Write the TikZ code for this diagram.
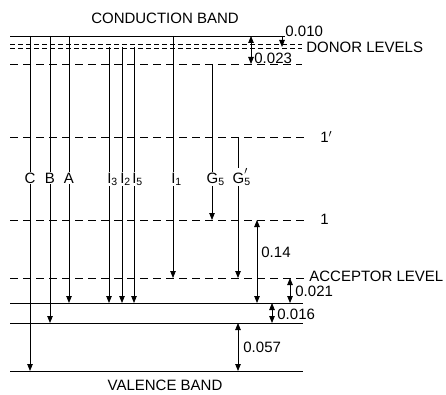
\documentclass[tikz,border=0pt]{standalone}
\usepackage{fontspec}
\setmainfont{Liberation Sans}
\usetikzlibrary{arrows.meta}

\begin{document}
\begin{tikzpicture}[x=1pt, y=-1pt, line width=0.8pt,
  >={Stealth[length=7pt, width=5.5pt, inset=0pt]},
  level/.style={dash pattern=on 8pt off 5pt},
  donor/.style={dash pattern=on 5pt off 3pt, line width=0.7pt},
  tag/.style={fill=white, inner sep=1pt, font=\fontsize{15}{17}\selectfont},
  txt/.style={inner sep=0pt, anchor=west, font=\fontsize{15}{17}\selectfont}]
  \useasboundingbox (0,0) rectangle (446,395);

  % Bands and levels
  \draw (10,36) -- (285,36);
  \draw[donor] (10,44.5) -- (302,44.5);
  \draw[donor] (10,48.5) -- (302,48.5);
  \draw[level] (10,64) -- (302,64);
  \draw[level] (10,137) -- (306,137);
  \draw[level] (10,220) -- (306,220);
  \draw[level] (10,278) -- (306,278);
  \draw (10,303) -- (303,303);
  \draw (10,323) -- (303,323);
  \draw (10,371) -- (303,371);

  % Transitions
  \draw[->] (30,36) -- (30,371);
  \draw[->] (50,36) -- (50,323);
  \draw[->] (69,36) -- (69,303);
  \draw[->] (109,47) -- (109,303);
  \draw[->] (122,47) -- (122,303);
  \draw[->] (134,47) -- (134,303);
  \draw[->] (173,36) -- (173,278);
  \draw[->] (212,64) -- (212,220);
  \draw[->] (238,137) -- (238,278);

  % Energy gaps
  \draw[<->] (251,36) -- (251,64);
  \draw[->] (282,36) -- (282,47);
  \draw[<->] (257,220) -- (257,303);
  \draw[<->] (290,278) -- (290,303);
  \draw[<->] (272,303) -- (272,323);
  \draw[<->] (238,323) -- (238,371);

  % Line labels
  \node[tag, anchor=base] (lC) at (30,183) {C};
  \node[tag, anchor=base] (lB) at (50,183) {B};
  \node[tag, anchor=base] (lA) at (69,183) {A};
  \node[tag, anchor=base west] (lI3) at (105.9,183) {I\textsubscript{3}};
  \node[tag, anchor=base west] (lI2) at (118.9,183) {I\textsubscript{2}};
  \node[tag, anchor=base west] (lI5) at (130.9,183) {I\textsubscript{5}};
  \node[tag, anchor=base west] (lI1) at (169.9,183) {I\textsubscript{1}};
  \node[tag, anchor=base west] (lG5) at (205.2,183) {G\textsubscript{5}};
  \node[tag, anchor=base west] (lG5p) at (231.2,183) {G\rlap{\raisebox{0.4ex}{$'$}}\textsubscript{5}};

  % Texts
  \node[txt, anchor=center] (cb) at (165,18) {CONDUCTION BAND};
  \node[txt, anchor=center] (vb) at (165,385) {VALENCE BAND};
  \node[txt] (e010) at (285,31) {0.010};
  \node[txt] (donors) at (306,47) {DONOR LEVELS};
  \node[txt] (e023) at (254,58) {0.023};
  \node[txt] (l1p) at (320,137) {1$'$};
  \node[txt] (l1) at (320,219) {1};
  \node[txt] (e14) at (261,252) {0.14};
  \node[txt] (acc) at (309,276) {ACCEPTOR LEVEL};
  \node[txt] (e021) at (295,291) {0.021};
  \node[txt] (e016) at (277,314) {0.016};
  \node[txt] (e057) at (243,347) {0.057};
\end{tikzpicture}
\end{document}
